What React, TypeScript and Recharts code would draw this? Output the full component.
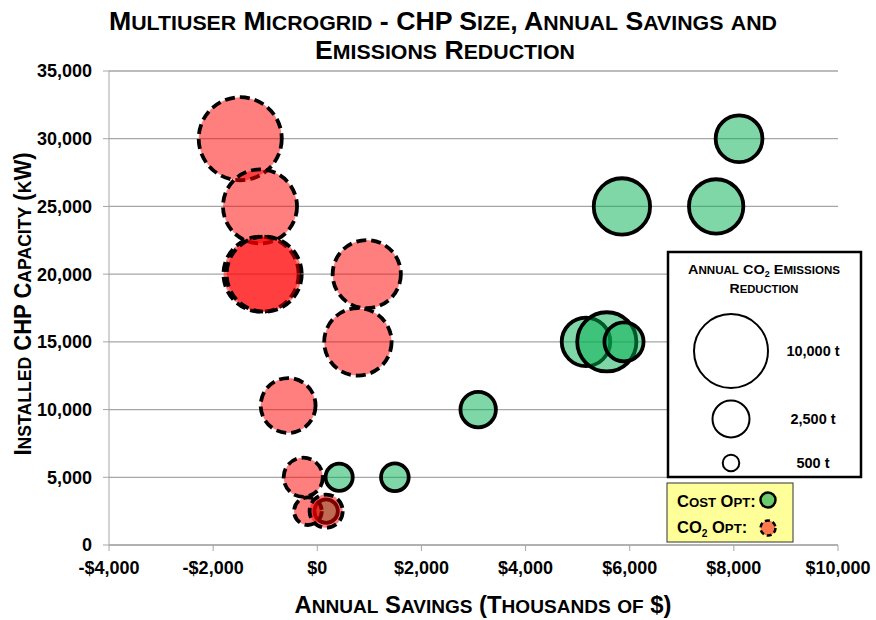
import React from "react";
import { ScatterChart, Scatter, XAxis, YAxis, ZAxis, CartesianGrid } from "recharts";

// cost-optimal runs
const costSavings = [8100, 5850, 7660, 5160, 5560, 5890, 3090, 420, 1490, 170];
const costCapacity = [30000, 25000, 25000, 15000, 15000, 15000, 10000, 5000, 5000, 2500];
const costEmissions = [4000, 5800, 5400, 4300, 6400, 2800, 2300, 1350, 1400, 1000];

// CO2-optimal runs
const co2Savings = [-1480, -1100, -1080, -1020, 950, 780, -560, -270, -180, 170];
const co2Capacity = [30000, 25000, 20000, 20000, 20000, 15000, 10300, 5000, 2500, 2500];
const co2Emissions = [12600, 10000, 10300, 10300, 8500, 8300, 5500, 2800, 1400, 2000];

const xTicks = [-4000, -2000, 0, 2000, 4000, 6000, 8000, 10000];
const yTicks = [0, 5000, 10000, 15000, 20000, 25000, 30000, 35000];
const sizeLegend = [10000, 2500, 500];

const W = 876;
const H = 620;
const NARROW = "'Liberation Sans Narrow', 'Arial Narrow', 'Liberation Sans', Arial, sans-serif";
const SANS = "'Liberation Sans', Arial, sans-serif";
const GRID = "#a6a6a6";

const Z_MAX = 20000;
const AREA_MAX = 2 * Math.PI * 37 * 37;
const radiusFor = (z: number) => Math.sqrt(((z / Z_MAX) * AREA_MAX) / Math.PI);

const costData = costSavings.map((x, i) => ({ x, y: costCapacity[i], z: costEmissions[i] }));
const co2Data = co2Savings.map((x, i) => ({ x, y: co2Capacity[i], z: co2Emissions[i] }));

const fmtMoney = (v: number) => (v < 0 ? `-$${Math.abs(v).toLocaleString("en-US")}` : `$${v.toLocaleString("en-US")}`);
const fmtNum = (v: number) => v.toLocaleString("en-US");

// fake small caps: lowercase runs drawn as smaller capitals, ₂ as subscript
function caps(text: string, size: number) {
  const parts = text.match(/₂|[a-z]+|[^a-z₂]+/g) || [];
  let shift = 0;
  return parts.map((p, i) => {
    if (p === "₂") {
      shift = size * 0.22;
      return (
        <tspan key={i} fontSize={size * 0.62} dy={shift}>
          2
        </tspan>
      );
    }
    const lower = /[a-z]/.test(p);
    const dy = shift ? -shift : undefined;
    shift = 0;
    return (
      <tspan key={i} fontSize={lower ? size * 0.8 : size} dy={dy}>
        {lower ? p.toUpperCase() : p}
      </tspan>
    );
  });
}

function bubble(fill: string, dashed: boolean) {
  return (props: any) => {
    const r = props.width ? props.width / 2 : Math.sqrt((props.size || 0) / Math.PI);
    return (
      <circle
        cx={props.cx}
        cy={props.cy}
        r={r}
        fill={fill}
        fillOpacity={0.5}
        stroke="#000"
        strokeWidth={3.8}
        strokeDasharray={dashed ? "10 5" : undefined}
      />
    );
  };
}

export default function App() {
  const tick = { fill: "#000", fontSize: 18, fontWeight: "bold", fontFamily: SANS };
  return (
    <div style={{ position: "absolute", left: 0, top: 0, width: W, height: H, background: "#fff" }}>
      <ScatterChart width={W} height={H} margin={{ top: 71, right: 38, bottom: 0, left: 0 }}>
        <CartesianGrid vertical={false} stroke={GRID} strokeWidth={1.3} />
        <XAxis
          type="number"
          dataKey="x"
          domain={[-4000, 10000]}
          ticks={xTicks}
          interval={0}
          tickFormatter={fmtMoney}
          tick={tick}
          stroke={GRID}
          tickSize={6}
          tickMargin={10}
          height={75}
        />
        <YAxis
          type="number"
          dataKey="y"
          domain={[0, 35000]}
          ticks={yTicks}
          interval={0}
          tickFormatter={fmtNum}
          tick={tick}
          stroke={GRID}
          tickSize={6}
          tickMargin={11}
          width={109}
        />
        <ZAxis type="number" dataKey="z" domain={[0, Z_MAX]} range={[0, AREA_MAX]} />
        <Scatter name="Cost Opt" data={costData} shape={bubble("#00B050", false)} isAnimationActive={false} />
        <Scatter name="CO2 Opt" data={co2Data} shape={bubble("#FF0000", true)} isAnimationActive={false} />
      </ScatterChart>

      <svg width={W} height={H} style={{ position: "absolute", left: 0, top: 0, pointerEvents: "none" }}>
        <g fontFamily={NARROW} fontWeight="bold" fill="#000">
          <text x={443} y={30} textAnchor="middle" textLength={668} lengthAdjust="spacingAndGlyphs">
            {caps("Multiuser Microgrid - CHP Size, Annual Savings and", 25)}
          </text>
          <text x={445} y={59} textAnchor="middle" textLength={260} lengthAdjust="spacingAndGlyphs">
            {caps("Emissions Reduction", 25)}
          </text>
          <text x={483} y={613} textAnchor="middle" textLength={377} lengthAdjust="spacingAndGlyphs">
            {caps("Annual Savings (Thousands of $)", 24)}
          </text>
          <text
            x={0}
            y={0}
            transform="translate(31,304) rotate(-90)"
            textAnchor="middle"
            textLength={303}
            lengthAdjust="spacingAndGlyphs"
          >
            {caps("Installed CHP Capacity (kW)", 24)}
          </text>
        </g>

        {/* bubble size legend */}
        <rect x={668} y={252} width={193} height={225} fill="#fff" stroke="#000" strokeWidth={2.5} />
        <g fontFamily={SANS} fontWeight="bold" fill="#000">
          <text x={764} y={274} textAnchor="middle" textLength={152} lengthAdjust="spacingAndGlyphs">
            {caps("Annual CO₂ Emissions", 13.5)}
          </text>
          <text x={764} y={293} textAnchor="middle" textLength={69} lengthAdjust="spacingAndGlyphs">
            {caps("Reduction", 13.5)}
          </text>
        </g>
        {sizeLegend.map((z, i) => {
          const cy = [351, 419, 463][i];
          return (
            <g key={z}>
              <circle cx={731} cy={cy} r={radiusFor(z)} fill="#fff" stroke="#000" strokeWidth={2} />
              <text
                x={813}
                y={cy + 5}
                textAnchor="middle"
                fontFamily={SANS}
                fontWeight="bold"
                fontSize={14.5}
                fill="#000"
              >
                {`${fmtNum(z)} t`}
              </text>
            </g>
          );
        })}

        {/* series legend */}
        <rect x={667} y={483} width={126} height={59} fill="#ffff99" stroke="#333" strokeWidth={1} />
        <g fontFamily={SANS} fontWeight="bold" fill="#000">
          <text x={677} y={507}>{caps("Cost Opt:", 16.5)}</text>
          <text x={677} y={533}>{caps("CO₂ Opt:", 16.5)}</text>
        </g>
        <circle cx={768} cy={500} r={7.5} fill="#6ccb6c" stroke="#000" strokeWidth={2.5} />
        <circle cx={768} cy={528} r={7.5} fill="#fa7a50" stroke="#000" strokeWidth={2.5} strokeDasharray="5 3" />
      </svg>
    </div>
  );
}
